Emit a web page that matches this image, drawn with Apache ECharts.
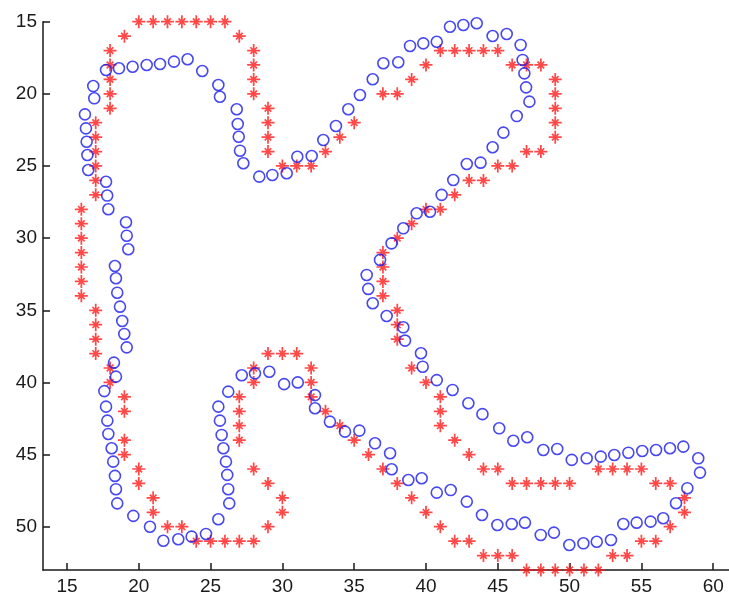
<!DOCTYPE html>
<html>
<head>
<meta charset="utf-8">
<title>scatter</title>
<script src="https://cdn.jsdelivr.net/npm/echarts@6/dist/echarts.min.js"></script>
<style>
  html, body { margin: 0; padding: 0; background: #fff; }
  #main { width: 729px; height: 601px; }
</style>
</head>
<body>
<div id="main"></div>
<script>
// tick labels
var xTicks = [15, 20, 25, 30, 35, 40, 45, 50, 55, 60]
var yTicks = [15, 20, 25, 30, 35, 40, 45, 50]

// red * points (outer track), [x, y]
var redStars = [
  [20, 15], [21, 15], [22, 15], [23, 15], [24, 15], [25, 15], [26, 15],
  [19, 16], [27, 16],
  [18, 17], [18, 18], [18, 19], [18, 20], [18, 21],
  [17, 22], [17, 23], [17, 24], [17, 25], [17, 26], [17, 27],
  [16, 28], [16, 29], [16, 30], [16, 31], [16, 32], [16, 33], [16, 34],
  [17, 35], [17, 36], [17, 37], [17, 38],
  [18, 39], [18, 40], [19, 41], [19, 42], [19, 44], [19, 45],
  [20, 46], [20, 47], [21, 48], [21, 49], [22, 50], [23, 50],
  [24, 51], [25, 51], [26, 51], [27, 51], [28, 51],
  [29, 50], [30, 49], [30, 48], [29, 47], [28, 46],
  [27, 44], [27, 43], [27, 42], [27, 41],
  [28, 40], [28, 39], [29, 38], [30, 38], [31, 38],
  [32, 39], [32, 40], [32, 41], [33, 42], [34, 43], [35, 44], [36, 45],
  [37, 46], [38, 47], [39, 48], [40, 49], [41, 50], [42, 51], [43, 51],
  [44, 52], [45, 52], [46, 52],
  [47, 53], [48, 53], [49, 53], [50, 53], [51, 53], [52, 53],
  [53, 52], [54, 52], [55, 51], [56, 51], [57, 50], [58, 49], [58, 48],
  [57, 47], [56, 47], [55, 46], [54, 46], [53, 46], [52, 46],
  [50, 47], [49, 47], [48, 47], [47, 47], [46, 47], [45, 46], [44, 46],
  [43, 45], [42, 44], [41, 43], [41, 42], [41, 41], [40, 40], [39, 39],
  [38, 37], [38, 36], [38, 35], [37, 34], [37, 33], [37, 32], [37, 31],
  [38, 30], [39, 29], [40, 28], [41, 28], [42, 27], [43, 26], [44, 26],
  [45, 25], [46, 25], [47, 24], [48, 24],
  [49, 23], [49, 22], [49, 21], [49, 20], [49, 19],
  [48, 18], [47, 18], [46, 18],
  [45, 17], [44, 17], [43, 17], [42, 17], [41, 17],
  [40, 18], [39, 19], [38, 20], [37, 20], [35, 22], [34, 23], [33, 24],
  [32, 25], [31, 25], [30, 25],
  [29, 24], [29, 23], [29, 22], [29, 21],
  [28, 20], [28, 19], [28, 18], [28, 17]
]

// blue o points (inner track), [x, y]
var blueCircles = [
  [17.72, 18.35], [18.62, 18.23], [19.57, 18.12], [20.55, 18.0], [21.48, 17.93],
  [22.45, 17.77], [23.4, 17.6], [24.42, 18.42], [25.54, 19.39], [25.65, 20.2],
  [26.82, 21.07], [26.89, 22.09], [26.96, 22.97], [27.05, 23.94], [27.28, 24.81],
  [28.39, 25.74], [29.3, 25.62], [30.3, 25.5], [31.04, 24.36], [32.04, 24.31],
  [32.85, 23.2], [33.73, 22.23], [34.59, 21.07], [35.4, 20.08], [36.29, 18.99],
  [37.03, 17.88], [38.07, 17.81], [38.89, 16.68], [39.81, 16.5], [40.75, 16.39],
  [41.67, 15.35], [42.6, 15.23], [43.53, 15.11], [44.64, 15.99], [45.62, 15.85],
  [46.59, 16.61], [46.73, 17.65], [46.85, 18.58], [46.97, 19.55], [47.2, 20.54],
  [46.32, 21.54], [45.39, 22.69], [44.64, 23.7], [43.8, 24.77], [42.84, 24.86],
  [41.9, 25.97], [41.09, 27.0], [40.28, 28.17], [39.35, 28.28], [38.42, 29.32],
  [37.6, 30.36], [36.8, 31.51], [35.87, 32.55], [35.98, 33.52], [36.29, 34.51],
  [37.26, 35.4], [38.42, 36.18], [38.54, 37.1], [39.65, 37.98], [39.77, 38.91],
  [40.75, 39.84], [41.85, 40.52], [42.95, 41.44], [43.93, 42.2], [45.1, 43.18],
  [46.08, 44.04], [47.05, 43.8], [48.17, 44.68], [49.14, 44.61], [50.15, 45.37],
  [51.19, 45.26], [52.17, 45.14], [53.11, 45.03], [54.09, 44.87], [55.06, 44.75],
  [56.02, 44.68], [56.99, 44.56], [57.92, 44.45], [58.96, 45.26], [59.08, 46.25],
  [58.2, 47.33], [57.41, 48.37], [56.52, 49.41], [55.64, 49.65], [54.67, 49.72],
  [53.74, 49.81], [52.88, 50.92], [51.89, 51.04], [50.96, 51.15], [49.98, 51.27],
  [48.91, 50.41], [47.99, 50.57], [46.89, 49.72], [45.97, 49.81], [44.97, 49.88],
  [43.9, 49.19], [42.84, 48.26], [41.72, 47.46], [40.75, 47.64], [39.7, 46.64],
  [38.77, 46.76], [37.61, 46.02], [37.5, 44.91], [36.45, 44.22], [35.36, 43.34],
  [34.36, 43.41], [33.31, 42.72], [32.27, 41.79], [32.27, 40.88], [31.07, 40.0],
  [30.12, 40.12], [29.09, 39.26], [28.09, 39.37], [27.17, 39.5], [26.23, 40.64],
  [25.54, 41.68], [25.65, 42.65], [25.77, 43.64], [25.89, 44.56], [26.07, 45.49],
  [26.16, 46.41], [26.23, 47.4], [26.3, 48.38], [25.54, 49.48], [24.68, 50.5],
  [23.68, 50.69], [22.75, 50.87], [21.71, 50.97], [20.78, 50.0], [19.62, 49.25],
  [18.5, 48.38], [18.41, 47.4], [18.34, 46.48], [18.22, 45.49], [18.11, 44.56],
  [17.88, 43.57], [17.81, 42.65], [17.72, 41.68], [17.6, 40.6], [18.41, 39.6],
  [18.27, 38.63], [19.16, 37.57], [18.99, 36.64], [18.85, 35.74], [18.69, 34.75],
  [18.5, 33.78], [18.41, 32.78], [18.34, 31.93], [19.27, 30.77], [19.16, 29.83],
  [19.11, 28.9], [17.88, 28.0], [17.8, 27.05], [17.72, 26.09], [16.48, 25.28],
  [16.42, 24.24], [16.37, 23.32], [16.32, 22.39], [16.25, 21.42], [16.9, 20.31],
  [16.83, 19.46]
]

// matlab style '*' marker, drawn a bit heavy like the blurred original
var starPath = 'path://M0,10.4L24,10.4L24,13.6L0,13.6Z M10.4,0L13.6,0L13.6,24L10.4,24Z ' +
  'M7,4.8L19.2,17L17,19.2L4.8,7Z M17,4.8L19.2,7L7,19.2L4.8,17Z'

var labelStyle = {
  color: '#1a1a1a',
  fontSize: 19,
  fontFamily: 'Liberation Sans, Arial, sans-serif'
}

var option = {
  animation: false,
  backgroundColor: '#fff',
  grid: { left: 43, right: 0, top: 21.7, bottom: 31 },
  xAxis: {
    type: 'value',
    min: 13.33,
    max: 61.1,
    splitLine: { show: false },
    axisLine: { lineStyle: { color: '#1a1a1a', width: 1.5 } },
    axisTick: { inside: true, length: 7, customValues: xTicks, lineStyle: { color: '#1a1a1a', width: 1.5 } },
    axisLabel: Object.assign({ margin: 7, customValues: xTicks }, labelStyle)
  },
  yAxis: {
    type: 'value',
    inverse: true,
    min: 15,
    max: 53,
    splitLine: { show: false },
    axisLine: { lineStyle: { color: '#1a1a1a', width: 1.5 } },
    axisTick: { inside: true, length: 7, customValues: yTicks, lineStyle: { color: '#1a1a1a', width: 1.5 } },
    axisLabel: Object.assign({ margin: 6, customValues: yTicks }, labelStyle)
  },
  series: [
    {
      name: 'stars',
      type: 'scatter',
      clip: false,
      symbol: starPath,
      symbolSize: 13,
      itemStyle: { color: '#ff1a1a' },
      data: redStars
    },
    {
      name: 'circles',
      type: 'scatter',
      clip: false,
      symbol: 'circle',
      symbolSize: 11,
      itemStyle: { color: 'rgba(0,0,0,0)', borderColor: '#1a1aee', borderWidth: 1.6 },
      data: blueCircles
    }
  ]
}

var myChart = echarts.init(document.getElementById('main'))
myChart.setOption(option)
</script>
</body>
</html>
